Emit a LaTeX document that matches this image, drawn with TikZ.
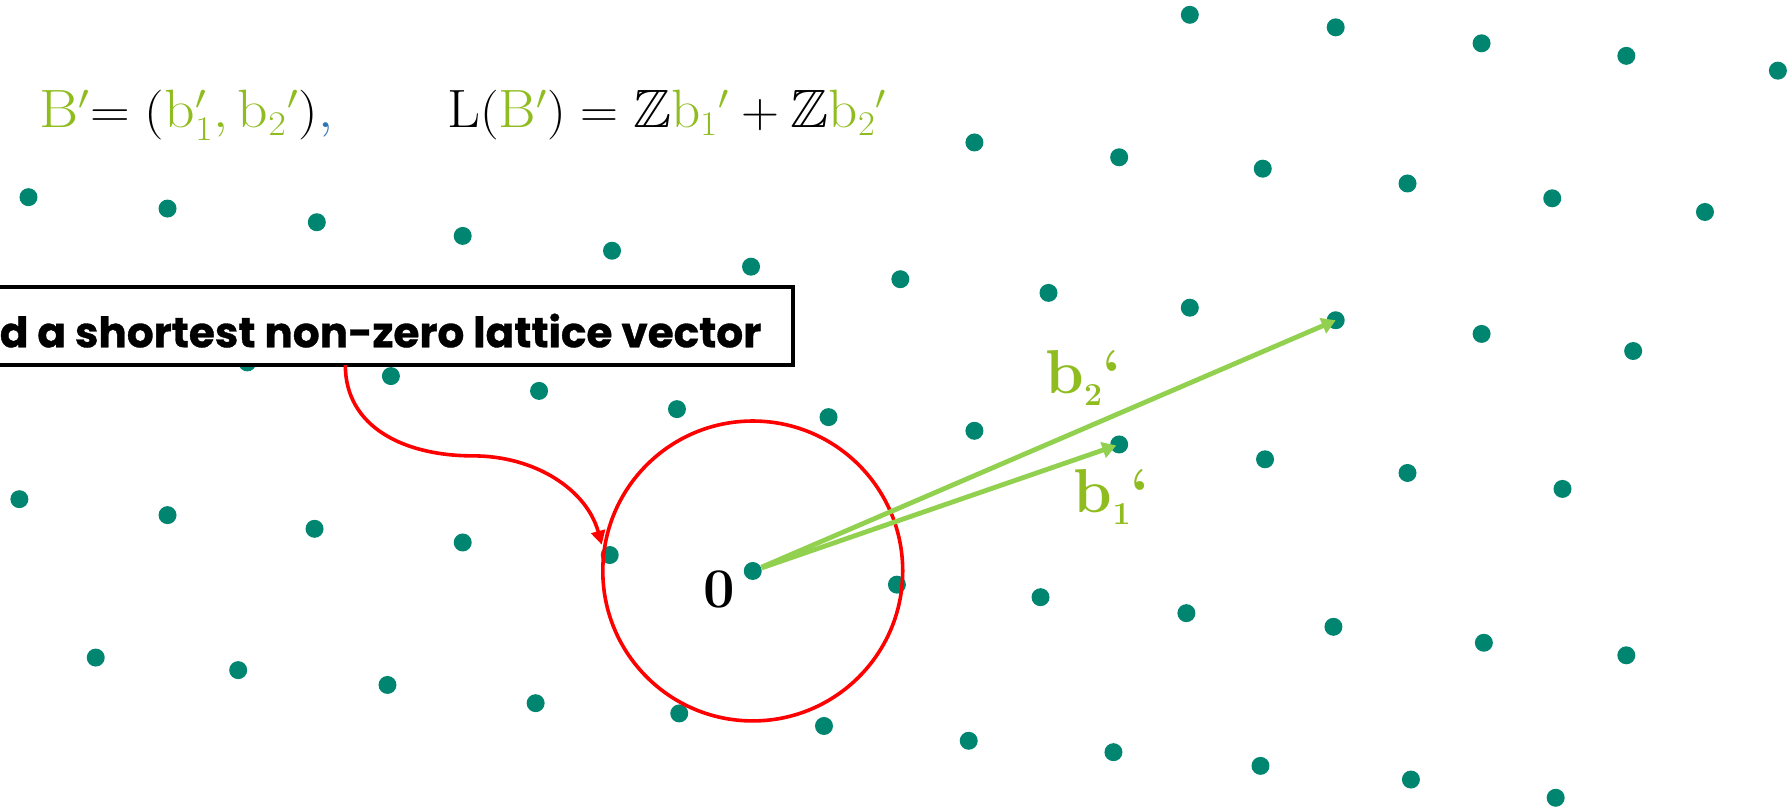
\documentclass[tikz,border=0pt]{standalone}
\usepackage{fontspec}
\usepackage{amssymb}
\usetikzlibrary{arrows.meta}
\newfontfamily\boxfont{Poppins}[BoldFeatures={FakeBold=0.8}]
\definecolor{dotc}{RGB}{0,134,112}
\definecolor{fgreen}{RGB}{143,188,31}
\definecolor{agreen}{RGB}{146,208,80}
\definecolor{cblue}{RGB}{46,117,182}
\definecolor{lred}{RGB}{255,0,0}
\begin{document}
\begin{tikzpicture}[x=0.57pt,y=-0.57pt,
  dot/.style={circle,fill=dotc,inner sep=0pt,minimum size=9pt},
  vec/.style={agreen,line width=2.4pt,-{Triangle[length=7pt,width=8pt]}},
  redline/.style={lred,line width=1.8pt},
  lbl/.style={inner sep=0pt,text=fgreen,font=\fontsize{31}{34}\selectfont\bfseries},
  formula/.style={inner sep=0pt,font=\fontsize{27}{30}\selectfont}]
\useasboundingbox (0,0) rectangle (1568,710);
\clip (0,0) rectangle (1568,710);
% lattice points
\foreach \x/\y [count=\i] in {
 1044/13, 1172/24, 1300/38, 1427/49, 1560/62,
 855/125, 982/138, 1108/148, 1235/161, 1362/174, 1496/186,
 25/173, 147/183, 278/195, 406/207, 537/220, 659/234, 790/245, 920/257, 1044/270, 1300/293, 1433/308,
 217/318, 343/330, 473/343, 594/359, 727/366, 855/378, 1110/403, 1235/415, 1371/429,
 17/438, 147/452, 276/464, 406/476, 535/487, 787/513, 913/524, 1041/538, 1170/550, 1302/564, 1427/575,
 84/577, 209/588, 340/601, 470/617, 596/626, 723/637, 850/650, 977/660, 1106/672, 1238/684, 1365/700}
  \node[dot] (d\i) at (\x,\y) {};
\node[dot] (o) at (660.5,501) {};
\node[dot] (p1) at (982,390) {};
\node[dot] (p2) at (1172,281) {};
% box
\node[draw=black,fill=white,line width=1.65pt,inner sep=0pt,
      minimum width=567.6pt,minimum height=39pt] (box) at (197.9,286.05) {};
\node[inner sep=0pt,anchor=base east] (txt) at (668.3,304.7)
  {\resizebox{380.8pt}{\height}{\fontsize{21}{24}\boxfont\bfseries d a shortest non-zero lattice vector}};
% red circle and pointer
\node[draw=lred,line width=1.8pt,circle,inner sep=0pt,minimum size=150pt] (ball) at (o.center) {};
\coordinate (cs) at (303,320.3);
\coordinate (ctip) at (528,478);
\draw[redline,-{Triangle[length=7pt,width=7pt]}] (cs)
  .. controls (303,375) and (355,400) .. (415,400)
  .. controls (470,400) and (515,430) .. (ctip);
% basis vectors
\draw[vec] (o) -- (p2.center);
\draw[vec,shorten >=1.5pt] (o) -- (p1.center);
% labels
\node[lbl,anchor=base west] (lb2) at (917,345) {b\raisebox{-6pt}{\fontsize{16}{16}\selectfont 2}‘};
\node[lbl,anchor=base west] (lb1) at (942,450) {b\raisebox{-6pt}{\fontsize{16}{16}\selectfont 1}‘};
\node[inner sep=0pt,font=\fontsize{28}{30}\selectfont\bfseries] (zero) at (631.5,517) {0};
% formulas
\node[formula,anchor=base west] (f1) at (34.2,112.3)
  {\resizebox{146.9pt}{\height}{$\color{fgreen}\mathrm{B}'{\color{black}=(}\mathrm{b}'_1,\mathrm{b}_2{}'{\color{black})}{\color{cblue},}$}};
\node[formula,anchor=base west] (f2) at (392,112.3)
  {\resizebox{220pt}{\height}{$\mathrm{L}(\textcolor{fgreen}{\mathrm{B}'})=\mathbb{Z}\textcolor{fgreen}{\mathrm{b}_1{}'}+\mathbb{Z}\textcolor{fgreen}{\mathrm{b}_2{}'}$}};
\end{tikzpicture}
\end{document}
